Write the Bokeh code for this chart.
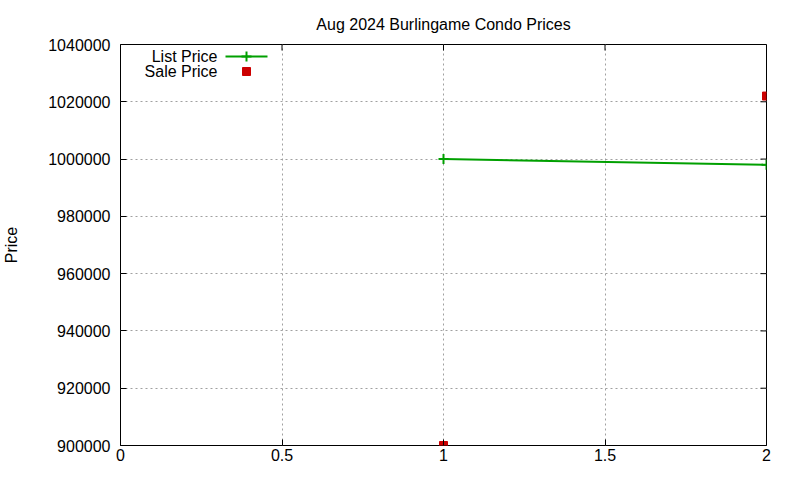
from bokeh.plotting import figure
from bokeh.models import Range1d, FixedTicker
from bokeh.core.properties import value
from bokeh.embed import file_html
from bokeh.resources import INLINE

# data
list_x = [1, 2]
list_price = [1000000, 998000]
sale_x = [1, 2]
sale_price = [900000, 1022000]

x_ticks = [0, 0.5, 1, 1.5, 2]
x_tick_labels = ["0", "0.5", "1", "1.5", "2"]
y_ticks = [900000, 920000, 940000, 960000, 980000, 1000000, 1020000, 1040000]
y_tick_labels = ["900000", "920000", "940000", "960000", "980000", "1000000", "1020000", "1040000"]

title_text = "Aug 2024 Burlingame Condo Prices"
y_title = "Price"
legend_labels = ["List Price", "Sale Price"]

GREEN = "#00a000"
RED = "#cc0000"
FONT = "Liberation Sans"

FW, FH = 646, 401
p = figure(width=784, height=464, output_backend="svg", toolbar_location=None,
           x_range=Range1d(0, 2), y_range=Range1d(900000, 1040000),
           min_border_left=120, min_border_right=18, min_border_top=44, min_border_bottom=19,
           frame_width=FW, frame_height=FH)

p.title.text = title_text
p.title.align = "center"
p.title.text_font = FONT
p.title.text_font_size = "16px"
p.title.text_font_style = "normal"
p.title.text_color = "black"
p.title.standoff = 24

p.outline_line_color = "black"
p.outline_line_width = 1
p.outline_line_alpha = 1

for ax in (p.xaxis[0], p.yaxis[0]):
    ax.axis_line_color = None
    ax.major_tick_in = 6
    ax.major_tick_out = 0
    ax.minor_tick_line_color = None
    ax.major_tick_line_color = "black"
    ax.major_label_text_font = FONT
    ax.major_label_text_font_size = "16px"
    ax.major_label_text_color = "black"

p.xaxis[0].ticker = FixedTicker(ticks=x_ticks)
p.xaxis[0].major_label_overrides = dict(zip(x_ticks, x_tick_labels))
p.xaxis[0].major_label_standoff = 3
p.yaxis[0].ticker = FixedTicker(ticks=y_ticks)
p.yaxis[0].major_label_overrides = dict(zip(y_ticks, y_tick_labels))
p.yaxis[0].major_label_standoff = 10
p.yaxis[0].axis_label = y_title
p.yaxis[0].axis_label_text_font = FONT
p.yaxis[0].axis_label_text_font_size = "16px"
p.yaxis[0].axis_label_text_font_style = "normal"
p.yaxis[0].axis_label_text_color = "black"
p.yaxis[0].axis_label_standoff = 25

p.xgrid[0].ticker = FixedTicker(ticks=x_ticks)
p.ygrid[0].ticker = FixedTicker(ticks=y_ticks)
for g in (p.xgrid[0], p.ygrid[0]):
    g.grid_line_color = "#a0a0a0"
    g.grid_line_dash = "2 3"
    g.grid_line_width = 1

# frame-pixel ranges for mirrored ticks and the legend
p.extra_x_ranges["px"] = Range1d(0, FW)
p.extra_y_ranges["px"] = Range1d(FH, 0)

# mirrored ticks (top and right), inward like the bottom/left ones
p.segment(x0=x_ticks, y0=[0] * len(x_ticks), x1=x_ticks, y1=[6] * len(x_ticks),
          y_range_name="px", line_color="black", line_width=1)
p.segment(x0=[FW] * len(y_ticks), y0=y_ticks, x1=[FW - 6] * len(y_ticks), y1=y_ticks,
          x_range_name="px", line_color="black", line_width=1)

# data marks
p.line(list_x, list_price, line_color=GREEN, line_width=2)
p.scatter(list_x, list_price, marker="cross", size=10, line_color=GREEN, line_width=2)
p.scatter(sale_x, sale_price, marker="square", size=8, fill_color=RED, line_color=RED)

# legend (label to the left of its sample, as in the reference)
p.text([97, 97], [12, 27], text=legend_labels, x_range_name="px", y_range_name="px",
       text_align="right", text_baseline="middle", text_font=value(FONT),
       text_font_size="16px", text_color="black")
p.line([105, 147], [12, 12], x_range_name="px", y_range_name="px", line_color=GREEN, line_width=2)
p.scatter([126], [12], x_range_name="px", y_range_name="px", marker="cross", size=10,
          line_color=GREEN, line_width=2)
p.scatter([126], [27], x_range_name="px", y_range_name="px", marker="square", size=8,
          fill_color=RED, line_color=RED)

open("out.html", "w").write(file_html(p, INLINE))
